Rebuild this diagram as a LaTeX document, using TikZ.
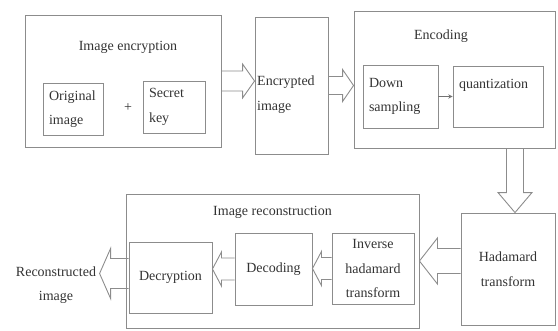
\documentclass[tikz,border=0pt]{standalone}
\usepackage{fontspec}
\setmainfont{Liberation Serif}
\usetikzlibrary{calc}

\tikzset{
  box/.style={draw=black!45, line width=0.9pt, rectangle, inner sep=6pt},
  hollow/.style={draw=black!45, line width=0.9pt, line join=miter},
}

% outlined block arrow: start, tip, shaft half width, head half width, head length
\newcommand{\hollowarrow}[5]{%
  \coordinate (ha-s) at (#1);
  \coordinate (ha-t) at (#2);
  \coordinate (ha-h) at ($(ha-t)!#5!(ha-s)$);
  \draw[hollow] ($(ha-s)!#3!90:(ha-t)$) -- ($(ha-h)!#3!-90:(ha-s)$)
    -- ($(ha-h)!#4!-90:(ha-s)$) -- (ha-t) -- ($(ha-h)!#4!90:(ha-s)$)
    -- ($(ha-h)!#3!90:(ha-s)$) -- ($(ha-s)!#3!-90:(ha-t)$);
}

\begin{document}
\begin{tikzpicture}[x=1pt, y=-1pt,
    every node/.style={font=\fontsize{14}{24.5}\selectfont, text=black!80}]
  \useasboundingbox (0,0) rectangle (558,330);

  % top row
  \node[box, minimum width=196pt, minimum height=132pt] (encrypt) at (123,81) {};
  \node (encrypttitle) at (128,47) {Image encryption};
  \node[box, minimum width=60pt, minimum height=52pt, text width=48pt, align=left] (orig) at (73,109) {Original\\image};
  \node (plus) at (128,108) {+};
  \node[box, minimum width=62pt, minimum height=52pt, text width=50pt, align=left] (secret) at (174,107) {Secret\\key};

  \node[box, minimum width=73pt, minimum height=137pt] (encrypted) at (291.5,85.5) {};
  \node[anchor=west, align=left, inner sep=0pt] (encryptedtext) at (257,94.5) {Encrypted\\image};

  \node[box, minimum width=201pt, minimum height=137pt] (encoding) at (454.5,79.5) {};
  \node (encodingtitle) at (441,36) {Encoding};
  \node[box, minimum width=75pt, minimum height=63pt, text width=63pt, align=left] (down) at (400.5,96.5) {Down\\sampling};
  \node[box, minimum width=90pt, minimum height=61pt, text width=78pt, align=left] (quant) at (498,96.5) {quantization\\~};

  % bottom row
  \node[box, minimum width=94pt, minimum height=112pt, align=center] (hadamard) at (508,269) {Hadamard\\transform};

  \node[box, minimum width=293pt, minimum height=134pt] (recon) at (272.5,261) {};
  \node (recontitle) at (272.5,212) {Image reconstruction};
  \node[box, minimum width=82pt, minimum height=71pt, align=center, inner sep=2pt] (inverse) at (373,268.5) {Inverse\\hadamard\\transform};
  \node[box, minimum width=77pt, minimum height=72pt] (decoding) at (273.5,269) {Decoding};
  \node[box, minimum width=83pt, minimum height=71pt] (decryption) at (170.5,277.5) {Decryption};

  \node[align=center] (out) at (56,285) {Reconstructed\\image};

  \draw[->, >=stealth, draw=black!55, line width=0.9pt] (down) -- (quant);

  \coordinate (hadin) at ([xshift=7pt]hadamard.north);
  \coordinate (hadout) at ([yshift=8pt]hadamard.west);
  \coordinate (decout) at ([yshift=4pt]decryption.west);

  \hollowarrow{encrypt.east}{encrypt.east -| encrypted.west}{10pt}{17pt}{12pt}
  \hollowarrow{encrypted.east}{encrypted.east -| encoding.west}{9pt}{16pt}{11pt}
  \hollowarrow{hadin |- encoding.south}{hadin}{8.5pt}{17pt}{20pt}
  \hollowarrow{hadout}{hadout -| recon.east}{12.5pt}{23pt}{18pt}
  \hollowarrow{inverse.west}{inverse.west -| decoding.east}{11pt}{17pt}{9pt}
  \hollowarrow{decoding.west}{decoding.west -| decryption.east}{11pt}{17pt}{9pt}
  \hollowarrow{decout}{decout -| out.east}{15pt}{25pt}{11pt}
\end{tikzpicture}
\end{document}
